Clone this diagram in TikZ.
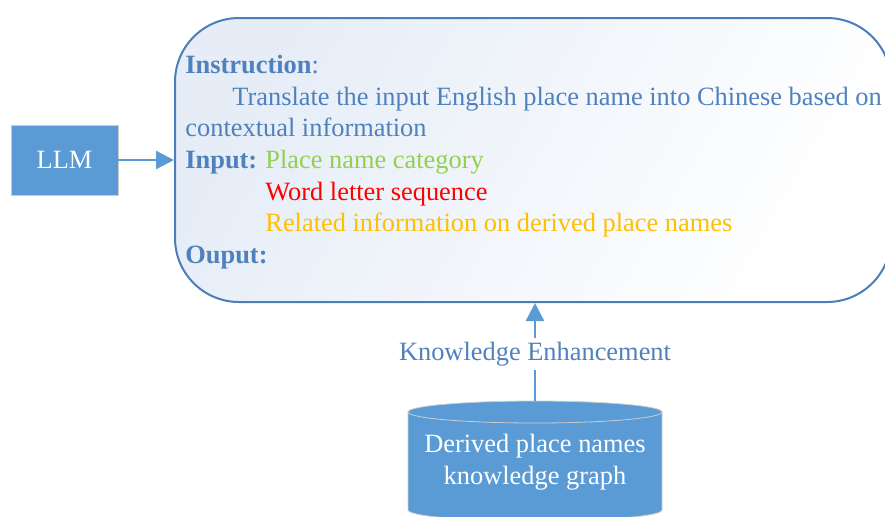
\documentclass[tikz,border=0pt]{standalone}
\usepackage{fontspec}
\setmainfont{Liberation Serif}
\usetikzlibrary{arrows.meta}

\definecolor{boxblue}{HTML}{4A7EBB}
\definecolor{txtblue}{HTML}{4F81BD}
\definecolor{fillblue}{HTML}{5B9BD5}
\definecolor{shadeblue}{HTML}{E6EDF7}
\definecolor{catgreen}{HTML}{92D050}
\definecolor{seqred}{HTML}{FF0000}
\definecolor{relorange}{HTML}{FFC000}

\tikzset{
  every node/.style={font=\fontsize{13.2}{15.8}\selectfont},
  bluebox/.style={fill=fillblue, draw=black!20, text=white},
  promptbox/.style={draw=boxblue, line width=1pt, rounded corners=32pt,
    top color=shadeblue, middle color=white, bottom color=white, shading angle=60,
    minimum width=358pt, minimum height=142pt},
  line/.style={anchor=base west, inner sep=0pt, text=txtblue},
  link/.style={draw=fillblue, line width=1.2pt, -{Triangle[length=9pt,width=9pt]}}
}

\begin{document}
\begin{tikzpicture}[x=0.5pt, y=-0.5pt]

\useasboundingbox (0, 0) rectangle (885, 516);

\node[bluebox, minimum width=53.5pt, minimum height=35pt] (llm) at (64.5, 160) {LLM};

\node[promptbox] (prompt) at (533, 160) {};

\node[line] (instr) at (185, 73) {\textbf{Instruction}:};
\node[line] (transl) at (232, 105) {Translate the input English place name into Chinese based on};
\node[line] (context) at (185, 136) {contextual information};
\node[line] (input) at (185, 168) {\textbf{Input:}};
\node[line, text=catgreen] (cat) at (265, 168) {Place name category};
\node[line, text=seqred] (seq) at (265, 200) {Word letter sequence};
\node[line, text=relorange] (rel) at (265, 231) {Related information on derived place names};
\node[line] (output) at (185, 263) {\textbf{Ouput:}};

% knowledge graph cylinder
\fill[fillblue, draw=black!20] (408, 412) -- (408, 510) arc (180:0:127 and 11) -- (662, 412) -- cycle;
\draw[bluebox] (535, 412) ellipse (127 and 11);
\coordinate (kgtop) at (535, 401);
\node[text=white, align=center] (kg) at (535, 462) {Derived place names\\knowledge graph};

\draw[link] (llm) -- (prompt.west);
\draw[link] (kgtop) -- node[pos=0.48, fill=white, text=txtblue, inner sep=2pt] (enh) {Knowledge Enhancement} (kgtop |- prompt.south);

\end{tikzpicture}
\end{document}
